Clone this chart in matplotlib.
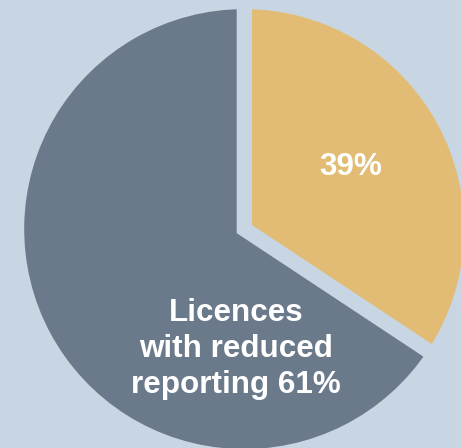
import matplotlib.pyplot as plt

# slice sizes as drawn (angles), labels as printed
sizes = [34.3, 65.7]
labels = ['39%', 'Licences\nwith reduced\nreporting 61%']
colors = ['#e2bc74', '#6a7a8b']
bg = '#c8d6e3'

plt.rcParams['font.family'] = ['Liberation Sans', 'DejaVu Sans']

fig = plt.figure(figsize=(4.61, 4.48), dpi=100)
fig.patch.set_facecolor(bg)
ax = fig.add_axes([0, 0, 1, 1])
ax.set_facecolor(bg)

# gaps between slices are wide background-coloured edges
wedges, _ = ax.pie(sizes, colors=colors, startangle=90, counterclock=False,
                   center=(244.2, 218.9), radius=227.5,
                   wedgeprops=dict(edgecolor=bg, linewidth=10.8))

ax.text(351, 448 - 167, labels[0], color='white', fontsize=22.7,
        fontweight='bold', ha='center', va='center')
ax.text(236, 448 - 349, labels[1], color='white', fontsize=22.6,
        fontweight='bold', ha='center', va='center', linespacing=1.27)

ax.set_xlim(0, 461)
ax.set_ylim(0, 448)
ax.set_aspect('equal')
ax.axis('off')

fig.savefig('out.png', dpi=100, facecolor=bg)
